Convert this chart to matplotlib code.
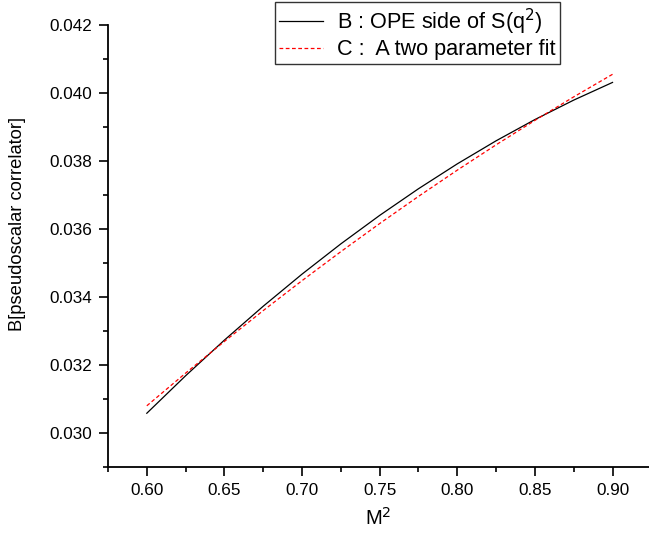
import matplotlib
matplotlib.use('Agg')
import matplotlib.pyplot as plt
from matplotlib.ticker import MultipleLocator, FormatStrFormatter

plt.rcParams['font.family'] = ['Liberation Sans', 'DejaVu Sans']

m2 = [0.600, 0.625, 0.650, 0.675, 0.700, 0.725, 0.750,
      0.775, 0.800, 0.825, 0.850, 0.875, 0.900]
ope_side = [0.030581, 0.031684, 0.032733, 0.033729, 0.034673, 0.035563, 0.036400,
            0.037184, 0.037916, 0.038594, 0.039219, 0.039791, 0.040311]
two_param_fit = [0.030800, 0.031761, 0.032694, 0.033601, 0.034481, 0.035334, 0.036160,
                 0.036959, 0.037731, 0.038476, 0.039194, 0.039886, 0.040550]

fig = plt.figure(figsize=(6.49, 5.39), dpi=100)
ax = fig.add_axes([108/649, 1 - 467/539, 1 - 108/649, (467 - 25)/539])

ax.plot(m2, ope_side, color='black', lw=0.9, label='B : OPE side of S(q$^2$)')
ax.plot(m2, two_param_fit, color='red', lw=0.9, ls=(0, (3, 2)), label='C :  A two parameter fit')

ax.set_xlim(0.575, 0.9235)
ax.set_ylim(0.029, 0.042)

ax.xaxis.set_major_locator(MultipleLocator(0.05))
ax.xaxis.set_minor_locator(MultipleLocator(0.025))
ax.yaxis.set_major_locator(MultipleLocator(0.002))
ax.yaxis.set_minor_locator(MultipleLocator(0.001))
ax.xaxis.set_major_formatter(FormatStrFormatter('%.2f'))
ax.yaxis.set_major_formatter(FormatStrFormatter('%.3f'))

for s in ['top', 'right']:
    ax.spines[s].set_visible(False)
for s in ['left', 'bottom']:
    ax.spines[s].set_linewidth(1.3)

ax.tick_params(which='major', direction='out', length=6.5, width=1.2, labelsize=12.3, pad=5)
ax.tick_params(which='minor', direction='out', length=3.5, width=1.2)

ax.set_xlabel('M$^2$', fontsize=14.5)
ax.set_ylabel('B[pseudoscalar correlator]', fontsize=13.2)
# label spots as in the picture (y label sits a bit above the middle)
ax.xaxis.set_label_coords((378 - 108) / 541, -(507 - 467) / 442)
ax.yaxis.set_label_coords(-(108 - 26) / 541, (467 - 224) / 442)

leg = ax.legend(loc='upper left', bbox_to_anchor=(275/649, 1 - 2/539),
                bbox_transform=fig.transFigure, fontsize=15.6, frameon=True, fancybox=False,
                handlelength=2.0, borderpad=0.2, labelspacing=0.12, handletextpad=0.65,
                borderaxespad=0)
leg.get_frame().set_edgecolor('black')
leg.get_frame().set_linewidth(1.0)

fig.savefig('out.png', dpi=100)
